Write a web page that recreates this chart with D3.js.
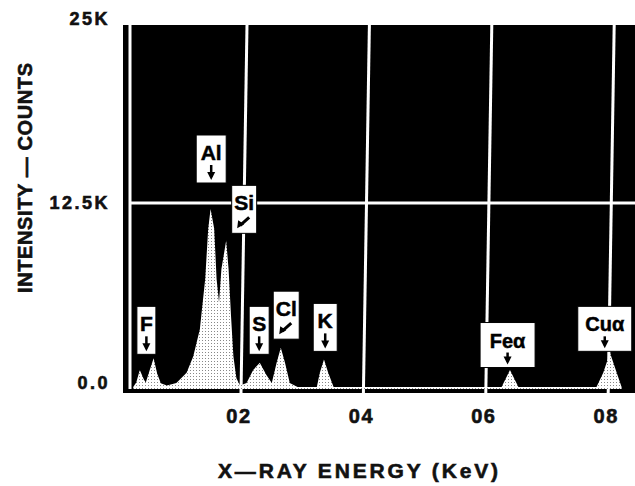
<!DOCTYPE html>
<html><head><meta charset="utf-8">
<script src="https://cdn.jsdelivr.net/npm/d3@7"></script>
<style>body{margin:0;background:#fff}svg{display:block}text{font-family:"Liberation Sans",Arial,sans-serif;font-weight:bold}</style>
</head><body><div id="c"></div>
<script>
// spectrum (keV, counts)
const energy = [0.190,0.239,0.297,0.366,0.395,0.464,0.523,0.582,0.641,0.739,0.895,1.062,1.170,1.278,1.366,1.415,1.454,1.513,1.552,1.592,1.631,1.709,1.748,1.788,1.827,1.876,1.935,2.042,2.150,2.258,2.366,2.454,2.533,2.601,2.670,2.748,2.876,3.190,3.239,3.307,3.376,3.464,6.209,6.346,6.484,7.760,7.870,7.980,8.090,8.170];
const counts = [0,300,1160,500,300,1200,1960,900,250,100,270,960,2080,3900,7330,10750,12100,10750,7330,5750,8010,9950,8010,4820,2080,600,100,270,1160,1640,820,270,1640,2660,1640,270,0,0,960,1870,960,0,0,1160,0,0,960,2330,960,0];
// peak labels
const labelNames = ["F","Al","Si","S","Cl","K","Feα","Cuα"];
const labelEnergy = [0.405,1.464,2.003,2.248,2.690,3.327,6.307,7.895];
const labelCounts = [5480,17120,13700,5480,6510,5680,4380,5480];
const labelArrow = ["down","down","diag","down","diag","down","down","down"];
// axis ticks
const xTicks = [2,4,6,8];
const xTickLabels = ["02","04","06","08"];
const yTicks = [0,12500,25000];
const yTickLabels = ["0.0","12.5K","25K"];
const xTitle = "X\u2014RAY ENERGY (KeV)";
const yTitle = "INTENSITY \u2014 COUNTS";

const W=635,H=486;
const svg=d3.select("#c").append("svg").attr("width",W).attr("height",H);
const x=d3.scaleLinear().domain([0,8.34]).range([121.6,632]);
const y=d3.scaleLinear().domain([0,25000]).range([387,19]);
const L=123,T=25,R=635,B=393;

const defs=svg.append("defs");
const pat=defs.append("pattern").attr("id","stip").attr("width",3).attr("height",3).attr("patternUnits","userSpaceOnUse");
pat.append("rect").attr("width",3).attr("height",3).attr("fill","#fff");
pat.append("rect").attr("x",1).attr("y",1).attr("width",1).attr("height",1).attr("fill","#888");

svg.append("rect").attr("x",L).attr("y",T).attr("width",R-L).attr("height",B-T).attr("fill","#000");
// inner frame line
svg.append("line").attr("x1",130).attr("x2",130).attr("y1",T).attr("y2",B-4).attr("stroke","#fff").attr("stroke-width",3);
// gridlines (slightly slanted like the scan)
svg.selectAll(".vg").data(xTicks).join("line").attr("x1",d=>x(d)-3).attr("x2",d=>x(d)+3).attr("y1",B).attr("y2",T).attr("stroke","#fff").attr("stroke-width",3);
svg.append("line").attr("x1",131).attr("x2",R).attr("y1",y(12500)).attr("y2",y(12500)).attr("stroke","#fff").attr("stroke-width",3);

// spectrum
const pts=energy.map((e,i)=>[e,counts[i]]);
const area=d3.area().x(d=>x(d[0])).y0(y(0)+2).y1(d=>y(d[1]));
svg.append("path").datum(pts).attr("d",area).attr("fill","url(#stip)");

// labels
const boxW={"F":19,"Al":30,"Si":25,"S":20,"Cl":26,"K":24,"Feα":55,"Cuα":54};
labelNames.forEach((n,i)=>{
  const cx=x(labelEnergy[i]), ty=y(labelCounts[i]);
  const w=boxW[n], h=(n.length>2?45:48);
  const g=svg.append("g");
  g.append("rect").attr("x",cx-w/2).attr("y",ty).attr("width",w).attr("height",h).attr("fill","#fff").attr("stroke","#000").attr("stroke-width",1);
  g.append("text").attr("x",cx).attr("y",ty+25).attr("text-anchor","middle").attr("font-size",n.length>2?20:21).attr("fill","#000").attr("stroke","#000").attr("stroke-width",0.5).text(n);
  if(labelArrow[i]==="down"){
    g.append("line").attr("x1",cx).attr("x2",cx).attr("y1",ty+30).attr("y2",ty+h-6).attr("stroke","#000").attr("stroke-width",2.5);
    g.append("path").attr("d",`M${cx-4},${ty+h-11}L${cx+4},${ty+h-11}L${cx},${ty+h-3}Z`).attr("fill","#000");
  } else {
    g.append("line").attr("x1",cx+5).attr("x2",cx-4).attr("y1",ty+32).attr("y2",ty+h-8).attr("stroke","#000").attr("stroke-width",3);
    g.append("path").attr("d",`M${cx-7},${ty+h-5}L${cx-6},${ty+h-13}L${cx},${ty+h-9}Z`).attr("fill","#000");
  }
});

// axis labels
const heavy=s=>s.attr("fill","#111").attr("stroke","#111").attr("stroke-width",0.6);
svg.selectAll(".xt").data(xTicks).join("text").attr("x",d=>x(d)-5).attr("y",423).attr("text-anchor","middle").attr("font-size",20).attr("letter-spacing",1.5).text((d,i)=>xTickLabels[i]).call(heavy);
const yOff=[2,6,6];
svg.selectAll(".yt").data(yTicks).join("text").attr("x",110).attr("y",(d,i)=>y(d)+yOff[i]).attr("text-anchor","end").attr("font-size",18).attr("letter-spacing",2.5).text((d,i)=>yTickLabels[i]).call(heavy);
svg.append("text").attr("x",358).attr("y",478).attr("text-anchor","middle").attr("font-size",21).attr("textLength",280).attr("lengthAdjust","spacing").text(xTitle).call(heavy);
svg.append("text").attr("transform","translate(32,178) rotate(-90)").attr("text-anchor","middle").attr("font-size",20).attr("textLength",230).attr("lengthAdjust","spacing").text(yTitle).call(heavy);
</script></body></html>
